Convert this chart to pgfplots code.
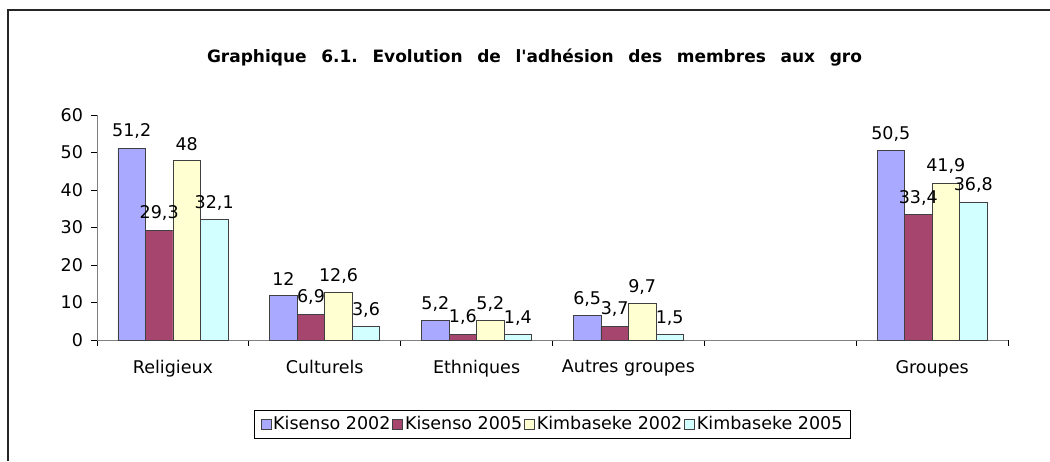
\documentclass[border=0pt]{standalone}
\usepackage{pgfplots}
\pgfplotsset{compat=1.18}
\usepackage{fontspec}
\setmainfont{DejaVu Sans}
\definecolor{cA}{HTML}{A9A9FF}
\definecolor{cB}{HTML}{A6466F}
\definecolor{cC}{HTML}{FFFFD2}
\definecolor{cD}{HTML}{D2FFFF}
\definecolor{axg}{HTML}{808080}
\begin{document}
\frenchspacing
\fontsize{17.5pt}{21pt}\selectfont
\begin{tikzpicture}
\useasboundingbox (0pt,0pt) rectangle (1050pt,-461pt);
\draw[line width=1.6pt, black!85] (8pt,-461pt) -- (8pt,-10pt) -- (1050pt,-10pt);
\node[font=\bfseries\fontsize{17pt}{20pt}\selectfont, inner sep=0pt] at (534.5pt,-58pt)
  {\makebox[655pt][s]{Graphique 6.1. Evolution de l\textquotesingle adhésion des membres aux gro}};
\begin{axis}[
  at={(97pt,-340pt)}, anchor=south west,
  scale only axis, width=911pt, height=225pt,
  ymin=0, ymax=60, ytick={0,10,...,60},
  xmin=-0.5, xmax=5.5,
  ybar=0pt, bar width=27.5pt,
  axis x line*=bottom, axis y line*=left,
  x axis line style={-, axg, line width=1pt},
  y axis line style={-, axg, line width=1pt},
  tick align=outside, major tick length=6pt,
  tick style={black, line width=0.8pt},
  /pgf/number format/assume math mode=true,
  xtick={-0.5,0.5,...,5.5}, xticklabels={},
  extra x ticks={0,1,2,3,4,5},
  extra x tick labels={Religieux,Culturels,Ethniques,Autres groupes,,Groupes},
  extra x tick style={major tick length=0pt, tick style={draw=none},
     xticklabel style={yshift=-14pt}},
  yticklabel style={xshift=-2pt},
  ticklabel style={font=\fontsize{17.5pt}{21pt}\selectfont},
  nodes near coords,
  every node near coord/.append style={font=\fontsize{17.5pt}{21pt}\selectfont, black,
     /pgf/number format/use comma, /pgf/number format/assume math mode=true, yshift=3pt},
  legend columns=4,
  legend style={at={(0.5,0)}, anchor=north, yshift=-70pt, draw=black, line width=0.8pt,
     font=\fontsize{17.5pt}{21pt}\selectfont, inner xsep=6pt, inner ysep=4pt,
     /tikz/every even column/.append style={column sep=0pt},
     legend cell align=left},
  legend image code/.code={\draw[#1, line width=0.6pt] (0pt,-4.5pt) rectangle (10pt,5.5pt);},
]
\addplot[fill=cA, draw=black!75, line width=0.7pt] coordinates {(0,51.2) (1,12) (2,5.2) (3,6.5) (5,50.5)};
\addplot[fill=cB, draw=black!75, line width=0.7pt] coordinates {(0,29.3) (1,6.9) (2,1.6) (3,3.7) (5,33.4)};
\addplot[fill=cC, draw=black!75, line width=0.7pt] coordinates {(0,48) (1,12.6) (2,5.2) (3,9.7) (5,41.9)};
\addplot[fill=cD, draw=black!75, line width=0.7pt] coordinates {(0,32.1) (1,3.6) (2,1.4) (3,1.5) (5,36.8)};
\legend{Kisenso 2002,Kisenso 2005,Kimbaseke 2002,Kimbaseke 2005}
\end{axis}
\end{tikzpicture}
\end{document}
